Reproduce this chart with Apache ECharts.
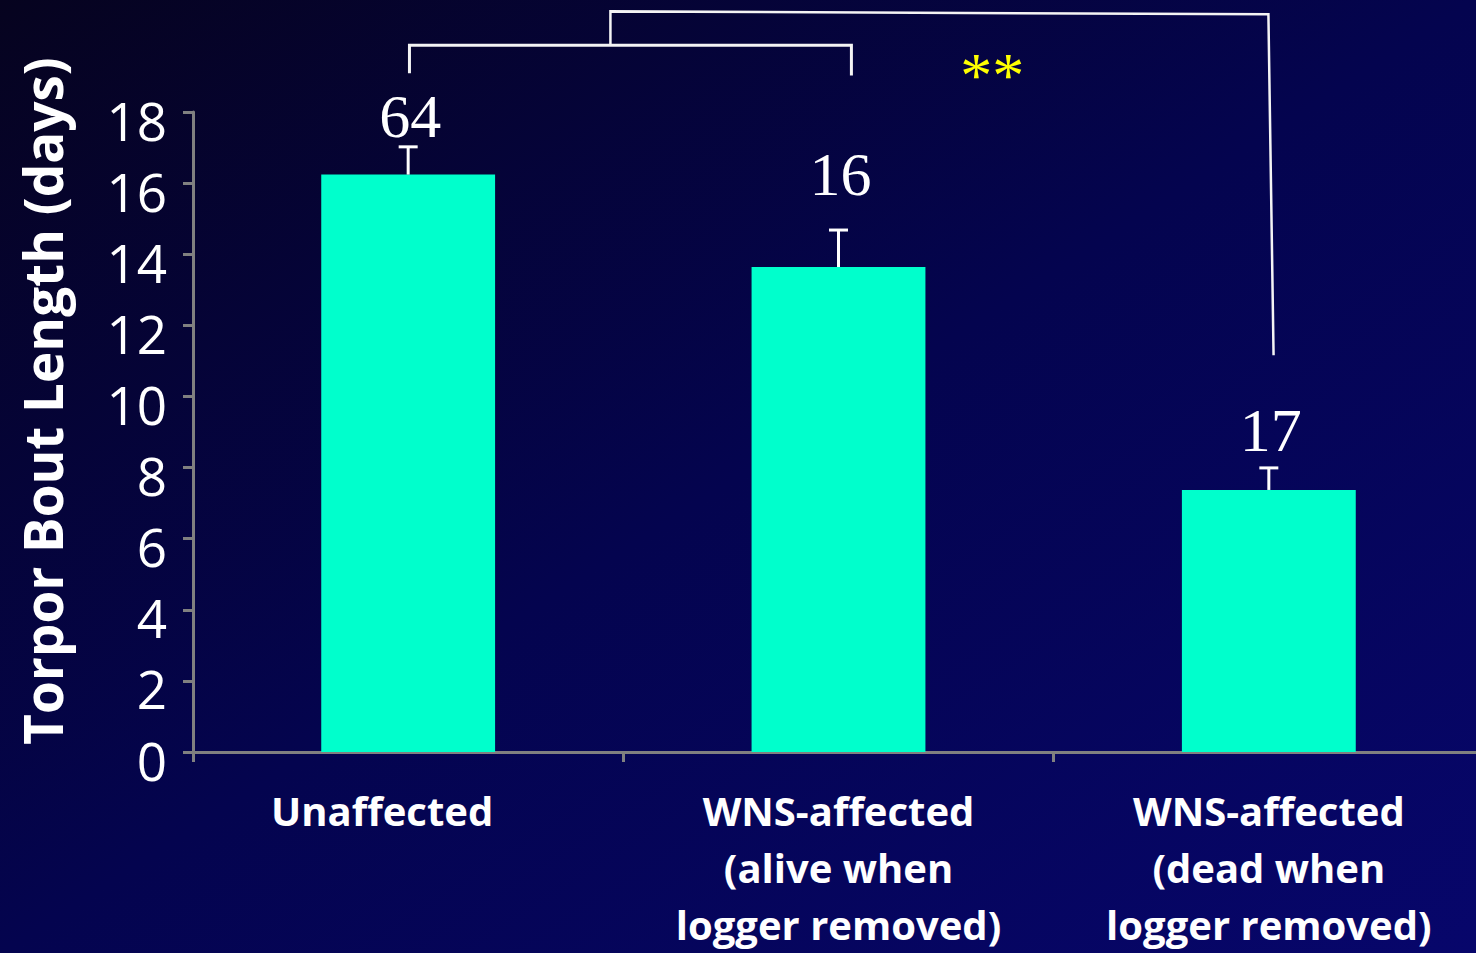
<!DOCTYPE html>
<html>
<head>
<meta charset="utf-8">
<script src="https://cdn.jsdelivr.net/npm/echarts@6/dist/echarts.min.js"></script>
<style>
  html, body { margin: 0; padding: 0; width: 1476px; height: 953px; overflow: hidden; background: #04044f; }
  #chart { width: 1476px; height: 953px; }
</style>
</head>
<body>
<div id="chart"></div>
<script>
// ---- data ----
const categories = [
  'Unaffected',
  'WNS-affected\n(alive when\nlogger removed)',
  'WNS-affected\n(dead when\nlogger removed)'
];
const meanTorpor = [16.24, 13.64, 7.37];      // mean torpor bout length (days)
const errTorpor = [0.78, 1.04, 0.62];         // error bar (+)
const sampleSizes = ['64', '16', '17'];       // n above each bar
const yMin = 0, yMax = 18, yStep = 2;
const yTitle = 'Torpor Bout Length (days)';
// significance brackets, in [category index, days] units
const bracketInner = [[0.003, 19.09], [0.003, 19.88], [1.03, 19.88], [1.03, 19.03]];
const bracketOuter = [[0.47, 19.88], [0.47, 20.83], [1.999, 20.75], [2.011, 11.16]];
const sigLabel = '**';
const sigPos = [1.357, 19.26];

// ---- styles ----
const nLabelGap = [10, 35, 17];

const chart = echarts.init(document.getElementById('chart'), null, { renderer: 'svg' });

const catData = categories.map((c, i) => i === 0
  ? { value: c, textStyle: { padding: [0, 52, 0, 0] } }
  : c);

const axisGray = '#808080';

const option = {
  animation: false,
  backgroundColor: new echarts.graphic.LinearGradient(0, 0, 1, 1, [
    { offset: 0, color: '#06031f' },
    { offset: 0.5, color: '#04044f' },
    { offset: 1, color: '#07066b' }
  ]),
  grid: { left: 193, top: 112, width: 1291, height: 640, containLabel: false, outerBoundsMode: 'none' },
  xAxis: {
    type: 'category',
    data: catData,
    axisLine: { show: true, lineStyle: { color: axisGray, width: 3 } },
    axisTick: { show: true, length: 10, lineStyle: { color: axisGray, width: 3 } },
    axisLabel: {
      interval: 0, color: '#ffffff', fontFamily: 'Open Sans', fontWeight: 'bold',
      fontSize: 40, lineHeight: 57, margin: 30
    },
    splitLine: { show: false }
  },
  yAxis: {
    type: 'value', min: yMin, max: yMax, interval: yStep,
    name: yTitle, nameLocation: 'middle', nameRotate: 90, nameGap: 124,
    nameTextStyle: {
      color: '#ffffff', fontFamily: 'Open Sans', fontWeight: 'bold', fontSize: 53,
      padding: [0, 0, 0, 62]
    },
    axisLine: { show: true, lineStyle: { color: axisGray, width: 3 } },
    axisTick: { show: true, length: 10, lineStyle: { color: axisGray, width: 3 } },
    axisLabel: {
      color: '#ffffff', fontFamily: 'Open Sans', fontSize: 53, margin: 26,
      verticalAlign: 'top', lineHeight: 16
    },
    splitLine: { show: false }
  },
  series: [
    {
      type: 'bar',
      data: meanTorpor,
      barWidth: '40.4%',
      itemStyle: { color: '#00FFCC' },
      silent: true,
      z: 2
    },
    {
      type: 'custom',
      clip: false,
      silent: true,
      z: 3,
      data: meanTorpor.map((v, i) => [i, v, errTorpor[i]]),
      encode: { x: 0, y: 1 },
      renderItem: function (params, api) {
        const i = params.dataIndex;
        const x = api.value(0), v = api.value(1), e = api.value(2);
        const base = api.coord([x, v]);
        const top = api.coord([x, v + e]);
        const cap = 9.5;
        const labelY = top[1] - nLabelGap[i] - 21;
        return {
          type: 'group',
          children: [
            { type: 'line', shape: { x1: base[0], y1: base[1], x2: top[0], y2: top[1] },
              style: { stroke: '#ffffff', lineWidth: 3 } },
            { type: 'line', shape: { x1: top[0] - cap, y1: top[1], x2: top[0] + cap, y2: top[1] },
              style: { stroke: '#ffffff', lineWidth: 3 } },
            { type: 'text', x: top[0] + 2, y: labelY,
              style: { text: sampleSizes[i], fill: '#ffffff', fontSize: 62, fontFamily: 'Liberation Serif',
                align: 'center', verticalAlign: 'middle', textAlign: 'center', textVerticalAlign: 'middle' } }
          ]
        };
      }
    },
    {
      type: 'custom',
      clip: false,
      silent: true,
      z: 4,
      data: [[0, 0]],
      encode: { x: 0, y: 1 },
      renderItem: function (params, api) {
        const c0 = api.coord([0, 0])[0];
        const c1 = api.coord([1, 0])[0];
        const pt = (p) => [c0 + p[0] * (c1 - c0), api.coord([0, p[1]])[1]];
        const sp = pt(sigPos);
        return {
          type: 'group',
          children: [
            { type: 'polyline', shape: { points: bracketInner.map(pt) },
              style: { stroke: '#f4f4f4', lineWidth: 3, fill: null } },
            { type: 'polyline', shape: { points: bracketOuter.map(pt) },
              style: { stroke: '#f4f4f4', lineWidth: 2.5, fill: null } },
            { type: 'text', x: sp[0], y: sp[1] + 8,
              style: { text: sigLabel, fill: '#FFFF00', fontSize: 64, fontFamily: 'Liberation Serif',
                align: 'center', verticalAlign: 'middle', textAlign: 'center', textVerticalAlign: 'middle' } }
          ]
        };
      }
    }
  ]
};

chart.setOption(option);
</script>
</body>
</html>
